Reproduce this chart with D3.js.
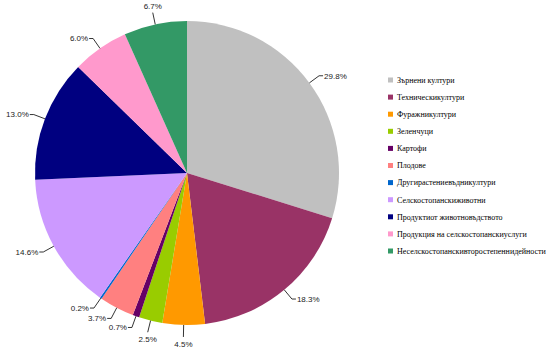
<!DOCTYPE html>
<html><head><meta charset="utf-8">
<script src="https://cdn.jsdelivr.net/npm/d3@7"></script>
<style>body{margin:0;background:#fff}svg{display:block}</style>
</head><body>
<svg id="c" width="553" height="355"></svg>
<script>
const categories = ["Зърнени култури","Техническикултури","Фуражникултури","Зеленчуци","Картофи","Плодове","Другирастениевъдникултури","Селскостопанскиживотни","Продуктиот животновъдството","Продукция на селскостопанскиуслуги","Неселскостопанскивторостепеннидейности"];
const values = [29.8,18.3,4.5,2.5,0.7,3.7,0.2,14.6,13.0,6.0,6.7];
const colors = ["#C0C0C0","#993366","#FF9900","#99CC00","#660066","#FF8080","#0066CC","#CC99FF","#000080","#FF99CC","#339966"];

const svg = d3.select("#c");
const cx = 187, cy = 173, r = 152;
const data = categories.map((c,i)=>({name:c,value:values[i],color:colors[i]}));
const pie = d3.pie().sort(null).value(d=>d.value);
const arcs = pie(data);
const arc = d3.arc().innerRadius(0).outerRadius(r);
const g = svg.append("g").attr("transform",`translate(${cx},${cy})`);
g.selectAll("path").data(arcs).join("path").attr("d",arc).attr("fill",d=>d.data.color);

const fmt = d3.format(".1f");
arcs.forEach(a=>{
  const m = (a.startAngle+a.endAngle)/2;
  const sx = Math.sin(m), sy = -Math.cos(m);
  const p0 = [sx*r, sy*r];
  const p1 = [sx*(r+12), sy*(r+12)];
  const right = sx > 0.3, left = sx < -0.3;
  let p2, tx, ty, anchor;
  if (right) { p2=[p1[0]+4,p1[1]]; tx=p2[0]+1; ty=p2[1]; anchor="start"; }
  else if (left) { p2=[p1[0]-4,p1[1]]; tx=p2[0]-1; ty=p2[1]; anchor="end"; }
  else { p2=[p1[0],p1[1]]; tx=p1[0]; ty=p1[1]+ (sy>0?7:-6); anchor="middle"; }
  g.append("polyline").attr("points",[p0,p1,p2].map(p=>p.join(",")).join(" "))
    .attr("fill","none").attr("stroke","#000").attr("stroke-width",0.8);
  g.append("text").attr("x",tx).attr("y",ty).attr("dy","0.35em")
    .attr("text-anchor",anchor).attr("font-family","Liberation Sans, Arial, sans-serif")
    .attr("font-size",8).attr("fill","#222").text(fmt(a.data.value)+"%");
});

const y = d3.scalePoint().domain(categories).range([80,251]);
const lg = svg.append("g");
data.forEach(d=>{
  lg.append("rect").attr("x",388).attr("y",y(d.name)-2.5).attr("width",5).attr("height",5).attr("fill",d.color);
  lg.append("text").attr("x",397).attr("y",y(d.name)).attr("dy","0.35em")
    .attr("font-family","Liberation Serif, Times New Roman, serif").attr("font-size",8)
    .attr("fill","#000").text(d.name);
});
</script>
</body></html>
